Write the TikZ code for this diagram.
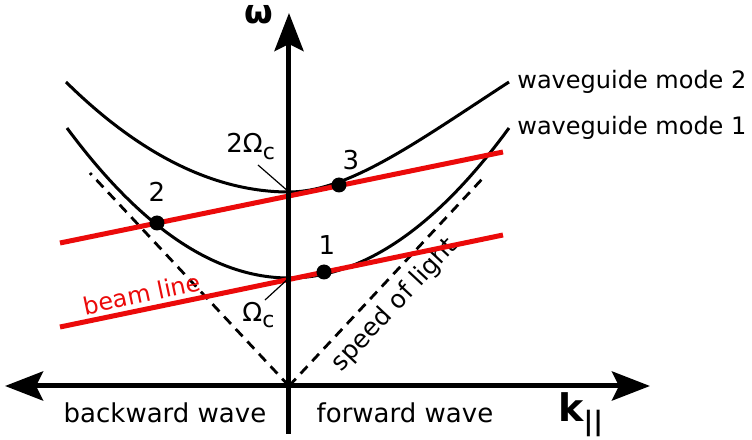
\documentclass[tikz,border=0pt]{standalone}
\usepackage{fontspec}
\setmainfont{DejaVu Sans}
\usetikzlibrary{arrows.meta, positioning}
\definecolor{beam}{RGB}{235,10,10}
\newcommand{\lowsub}[1]{\raisebox{-3pt}{\fontsize{11}{12}\selectfont #1}}

\begin{document}
\begin{tikzpicture}[x=0.5pt, y=0.5pt, font=\fontsize{13}{15}\selectfont,
  >={Stealth[length=19pt, width=14.5pt, inset=3.5pt]},
  axis/.style={line width=2.5pt},
  mode/.style={line width=1.5pt},
  beamline/.style={beam, line width=2.5pt},
  light/.style={line width=1.4pt, dash pattern=on 5pt off 3.5pt},
  dot/.style={circle, fill, inner sep=0pt, minimum size=7.5pt},
  lbl/.style={inner sep=0pt},
  small/.style={inner sep=0pt, font=\fontsize{12}{14}\selectfont},
  axlabel/.style={inner sep=0pt, font=\fontsize{19}{21}\selectfont\bfseries}]
  \useasboundingbox (-289,-54) rectangle (463,386);
  \coordinate (o) at (0,0);
  % dispersion curves of the guide
  \coordinate (m1) at (0,108);
  \coordinate (m2) at (0,194);
  \draw[mode] (-222,258) .. controls (-148,158) and (-74,108) .. (m1)
    .. controls (73,108) and (147,158) .. (220,258);
  \draw[mode] (-223,304) .. controls (-149,231) and (-74,194) .. (m2)
    .. controls (60,194) and (130,245.5) .. (220,304);
  \node[small, anchor=west] (wg2) at (228,304) {waveguide mode 2};
  \node[small, anchor=west] (wg1) at (228,258) {waveguide mode 1};
  % light lines
  \coordinate (cl) at (-199,213);
  \coordinate (cr) at (195,209);
  \draw[light] (o) -- (cl);
  \draw[light] (o) -- (cr);
  \node[lbl, rotate=47, font=\fontsize{12.5}{14}\selectfont] (sol) at (106,81) {speed of light};
  % beam lines
  \coordinate (b1l) at (-229,59);
  \coordinate (b1r) at (214,151);
  \coordinate (b2l) at (-229,143);
  \coordinate (b2r) at (214,234);
  \draw[beamline] (b1l) -- (b1r);
  \draw[beamline] (b2l) -- (b2r);
  \node[small, beam, rotate=12] (bl) at (-147,92) {beam line};
  % cut-off frequencies
  \node[lbl, anchor=base west] (om1) at (-47,64) {Ω\lowsub{c}};
  \node[lbl, anchor=base west] (om2) at (-63,233) {2Ω\lowsub{c}};
  \coordinate (t1) at (-24,86);
  \coordinate (t2) at (-31,221);
  \draw[line width=0.6pt] (t1) -- (m1);
  \draw[line width=0.6pt] (t2) -- (m2);
  % synchronism points
  \node[dot] (p1) at (35,114) {};
  \node[dot] (p2) at (-132,163) {};
  \node[dot] (p3) at (50,201) {};
  \node[lbl] (n1) at (38,141) {1};
  \node[lbl] (n2) at (-132,194) {2};
  \node[lbl] (n3) at (62,226) {3};
  % axes
  \coordinate (xl) at (-284,0);
  \coordinate (xr) at (361,0);
  \coordinate (yb) at (0,-48);
  \coordinate (yt) at (0,373);
  \draw[axis, <->] (xl) -- (xr);
  \draw[axis, ->] (yb) -- (yt);
  \node[axlabel, font=\fontsize{16.5}{18}\selectfont\bfseries, anchor=base west] (w) at (-45,362) {ω};
  \node[axlabel, anchor=base west] (k) at (269,-36) {k\textsubscript{||}};
  \node[lbl] (bw) at (-124,-27) {backward wave};
  \node[lbl] (fw) at (116,-27) {forward wave};
\end{tikzpicture}
\end{document}
